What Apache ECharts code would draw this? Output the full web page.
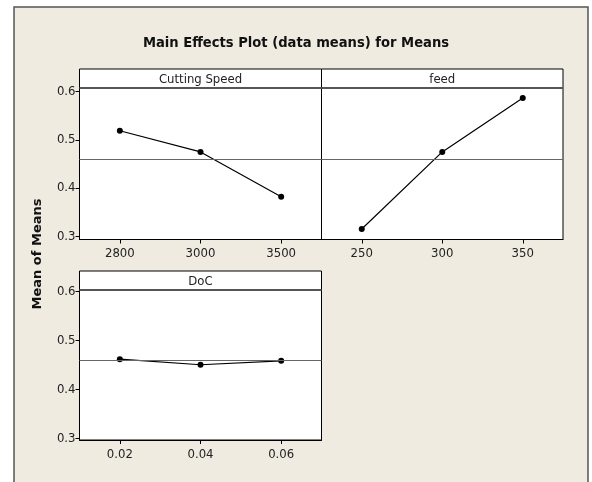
<!DOCTYPE html>
<html>
<head>
<meta charset="utf-8">
<script src="https://cdn.jsdelivr.net/npm/echarts@6/dist/echarts.min.js"></script>
<style>
html,body{margin:0;padding:0;background:#fff;}
#c{width:592px;height:482px;}
</style>
</head>
<body>
<div id="c"></div>
<script>
// ---- data ----
const titleText = 'Main Effects Plot (data means) for Means';
const yAxisTitle = 'Mean of Means';
const panelNames = ['Cutting Speed', 'feed', 'DoC'];
const speedLevels = ['2800', '3000', '3500'];
const speedMeans = [0.519, 0.475, 0.382];
const feedLevels = ['250', '300', '350'];
const feedMeans = [0.315, 0.475, 0.587];
const docLevels = ['0.02', '0.04', '0.06'];
const docMeans = [0.462, 0.4505, 0.4585];
const grandMean = 0.458;

const FONT = 'DejaVu Sans Condensed';
const chart = echarts.init(document.getElementById('c'), null, {renderer: 'canvas'});

function isRound(v) { return Math.abs(v * 10 - Math.round(v * 10)) < 1e-6; }

function yAx(gi, min, max, showLabels) {
  return {
    type: 'value', gridIndex: gi, min: min, max: max, splitNumber: 3,
    splitLine: {show: false},
    axisLine: {show: true, lineStyle: {color: '#000', width: 1}},
    axisTick: {show: showLabels, length: 4, lineStyle: {color: '#000'}},
    axisLabel: {
      show: showLabels, margin: 4, color: '#222', fontFamily: FONT, fontSize: 13,
      showMinLabel: false, showMaxLabel: false,
      formatter: v => isRound(v) ? v.toFixed(1) : ''
    }
  };
}
function xAx(gi, cats) {
  return {
    type: 'category', gridIndex: gi, data: cats, boundaryGap: true,
    axisLine: {show: true, lineStyle: {color: '#000', width: 1}},
    axisTick: {show: true, alignWithLabel: true, length: 4, lineStyle: {color: '#000'}},
    axisLabel: {color: '#222', fontFamily: FONT, fontSize: 13, margin: 8}
  };
}
function ser(gi, vals) {
  return {
    type: 'line', xAxisIndex: gi, yAxisIndex: gi, data: vals,
    symbol: 'circle', symbolSize: 6, showSymbol: true,
    itemStyle: {color: '#000'}, lineStyle: {color: '#000', width: 1.2},
    animation: false,
    markLine: {
      silent: true, symbol: 'none', label: {show: false},
      lineStyle: {color: '#666', width: 1.2, type: 'solid'},
      data: [{yAxis: grandMean}]
    }
  };
}
const gridStyle = {show: true, backgroundColor: '#fff', borderColor: '#000', borderWidth: 1, containLabel: false};

function header(x, y, w, h, txt) {
  return [
    {type: 'rect', shape: {x: x, y: y, width: w, height: h}, style: {fill: '#fff', stroke: '#000', lineWidth: 1}, z: 10},
    {type: 'line', shape: {x1: x, y1: y + h, x2: x + w, y2: y + h}, style: {stroke: '#555', lineWidth: 2}, z: 11},
    {type: 'text', x: x + w / 2, y: y + h / 2 + 1, style: {text: txt, fill: '#222', font: '13px "' + FONT + '"', textAlign: 'center', textVerticalAlign: 'middle'}, z: 12}
  ];
}

const option = {
  backgroundColor: '#fff',
  animation: false,
  title: {
    text: titleText, left: 'center', top: 31,
    textStyle: {fontFamily: FONT, fontWeight: 'bold', fontSize: 14.6, color: '#111'}
  },
  grid: [
    Object.assign({left: 79.5, top: 88, width: 242, height: 151.5}, gridStyle),
    Object.assign({left: 321.5, top: 88, width: 241.5, height: 151.5}, gridStyle),
    Object.assign({left: 79.5, top: 290, width: 242, height: 150}, gridStyle)
  ],
  xAxis: [xAx(0, speedLevels), xAx(1, feedLevels), xAx(2, docLevels)],
  yAxis: [yAx(0, 0.2931, 0.6077, true), yAx(1, 0.2931, 0.6077, false), yAx(2, 0.2965, 0.6035, true)],
  series: [ser(0, speedMeans), ser(1, feedMeans), ser(2, docMeans)],
  graphic: [
    {type: 'rect', shape: {x: 14, y: 7, width: 574, height: 480}, style: {fill: '#EFEBE1', stroke: '#555', lineWidth: 1.5}, z: -100, silent: true},
    ...header(79.5, 69, 242, 19, panelNames[0]),
    ...header(321.5, 69, 241.5, 19, panelNames[1]),
    ...header(79.5, 271, 242, 19, panelNames[2]),
    {type: 'text', x: 38, y: 254, rotation: Math.PI / 2,
     style: {text: yAxisTitle, fill: '#111', font: 'bold 13px "DejaVu Sans"', textAlign: 'center', textVerticalAlign: 'middle'}, z: 5}
  ]
};
chart.setOption(option);
</script>
</body>
</html>
